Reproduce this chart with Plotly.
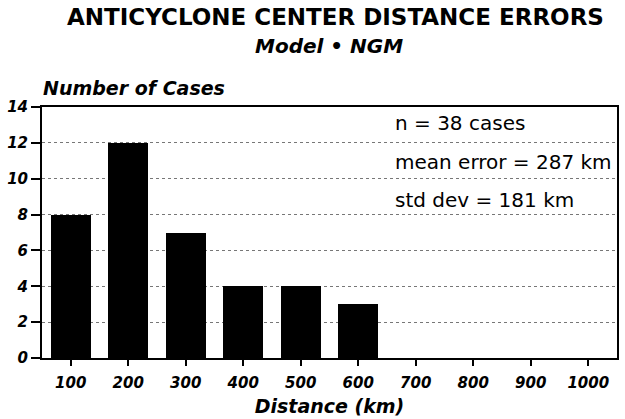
import plotly.graph_objects as go

distance_km = [100, 200, 300, 400, 500, 600, 700, 800, 900, 1000]
num_cases = [8, 12, 7, 4, 4, 3, 0, 0, 0, 0]
y_ticks = [0, 2, 4, 6, 8, 10, 12, 14]
stats_lines = ["n = 38 cases", "mean error = 287 km", "std dev = 181 km"]
stats_ypx = [123, 162, 200]

FONT = "DejaVu Sans"
bi = dict(family=FONT, color="black", weight="bold", style="italic")

L, R, T, B = 42, 617, 107, 358


def px_x(px):
    return (px - L) / (R - L)


def px_y(py):
    return (B - py) / (B - T)


fig = go.Figure()
fig.add_trace(go.Bar(x=distance_km, y=num_cases, width=69,
                     marker=dict(color="black", line=dict(width=0)),
                     showlegend=False, hoverinfo="skip"))

fig.update_layout(
    width=625, height=419,
    margin=dict(l=L, r=625 - R, t=T, b=419 - B, autoexpand=False),
    paper_bgcolor="white", plot_bgcolor="white",
    xaxis=dict(range=[50, 1050], tickvals=distance_km, ticktext=[str(v) for v in distance_km],
               showgrid=False, zeroline=False, showline=True, linecolor="black", linewidth=2,
               mirror=True, ticks="outside", ticklen=6, tickwidth=1.5, tickcolor="black",
               tickfont=dict(size=15, **bi), ticklabelstandoff=4,
               title=dict(text="Distance (km)", font=dict(size=19, **bi), standoff=9)),
    yaxis=dict(range=[0, 14], tickvals=y_ticks, showgrid=True, gridcolor="#777777",
               griddash="dot", gridwidth=1, zeroline=False, showline=True, linecolor="black",
               linewidth=2, mirror=True, ticks="outside", ticklen=9, tickwidth=1.5,
               tickcolor="black", tickfont=dict(size=15, **bi)),
    bargap=0,
)

ann = []
ann.append(dict(text="ANTICYCLONE CENTER DISTANCE ERRORS", x=px_x(335), y=px_y(17),
                xref="paper", yref="paper", showarrow=False, xanchor="center", yanchor="middle",
                font=dict(family=FONT, size=23, color="black", weight="bold")))
ann.append(dict(text="Model • NGM", x=px_x(329), y=px_y(46),
                xref="paper", yref="paper", showarrow=False, xanchor="center", yanchor="middle",
                font=dict(size=20, **bi)))
ann.append(dict(text="Number of Cases", x=px_x(41), y=px_y(88),
                xref="paper", yref="paper", showarrow=False, xanchor="left", yanchor="middle",
                font=dict(size=19, **bi)))
for t, yy in zip(stats_lines, stats_ypx):
    ann.append(dict(text=t, x=px_x(393), y=px_y(yy), xref="paper", yref="paper", showarrow=False,
                    xanchor="left", yanchor="middle",
                    font=dict(family=FONT, size=20, color="black")))
fig.update_layout(annotations=ann)

fig.write_html("out.html", config={"displayModeBar": False},
               post_script="document.body.style.margin='0';document.body.style.overflow='hidden';")
